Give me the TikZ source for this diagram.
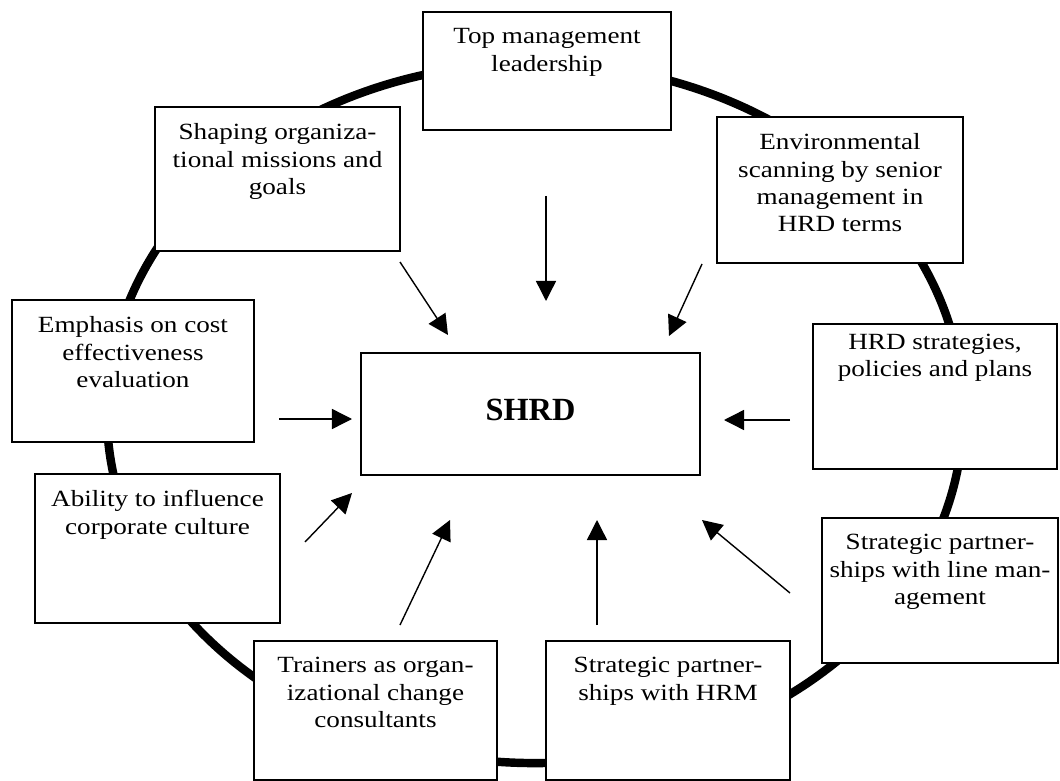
\documentclass[tikz,border=0pt]{standalone}
\usepackage{fontspec}
\setmainfont[FakeStretch=1.17]{Liberation Serif}
\newfontfamily\hubfont{Liberation Serif}
\usetikzlibrary{arrows.meta,fit}

\begin{document}
\begin{tikzpicture}[
  x=0.025cm, y=-0.025cm,
  ring/.style={line width=6pt, black},
  box/.style={draw, line width=1.4pt, fill=white, inner sep=0pt},
  txt/.style={anchor=north, align=center, inner sep=0.43cm, font=\fontsize{16.5}{19.5}\selectfont},
  arr/.style={-{Triangle[length=0.5cm, width=0.5cm]}, line width=1pt}
]
  \useasboundingbox (0,0) rectangle (1060,781);
  \fill[white] (0,0) rectangle (1060,781);

  \draw[ring] (535,413) ellipse [x radius=10.7cm, y radius=8.75cm];

  \node[box, fit={(423,12) (671,130)}, label={[txt]90:{Top management\\leadership}}] (top) {};
  \node[box, fit={(155,107) (400,251)}, label={[txt]90:{Shaping organiza-\\tional missions and\\goals}}] (shaping) {};
  \node[box, fit={(717,117) (963,263)}, label={[txt]90:{Environmental\\scanning by senior\\management in\\HRD terms}}] (env) {};
  \node[box, fit={(12,300) (254,442)}, label={[txt]90:{Emphasis on cost\\effectiveness\\evaluation}}] (emph) {};
  \node[box, fit={(813,324) (1057,469)}, label={[txt, yshift=0.17cm]90:{HRD strategies,\\policies and plans}}] (hrd) {};
  \node[box, fit={(35,474) (280,623)}, label={[txt]90:{Ability to influence\\corporate culture}}] (ability) {};
  \node[box, fit={(822,518) (1058,663)}, label={[txt]90:{Strategic partner-\\ships with line man-\\agement}}] (linemgmt) {};
  \node[box, fit={(254,641) (497,780)}, label={[txt]90:{Trainers as organ-\\izational change\\consultants}}] (trainers) {};
  \node[box, fit={(546,641) (790,780)}, label={[txt]90:{Strategic partner-\\ships with HRM}}] (hrm) {};

  \node[box, minimum width=8.475cm, minimum height=3.05cm, text depth=0.2cm,
        font=\hubfont\bfseries\fontsize{23}{27}\selectfont] (shrd) at (530.5,414) {SHRD};

  \coordinate (top-a) at (546,196);       \coordinate (top-b) at (546,301);
  \coordinate (shaping-a) at (400,262);   \coordinate (shaping-b) at (448,335);
  \coordinate (env-a) at (702,264);       \coordinate (env-b) at (669,336);
  \coordinate (emph-a) at (279,419);      \coordinate (emph-b) at (352,419);
  \coordinate (hrd-a) at (790,420);       \coordinate (hrd-b) at (724,420);
  \coordinate (ability-a) at (305,542);   \coordinate (ability-b) at (352,493);
  \coordinate (trainers-a) at (400,625);  \coordinate (trainers-b) at (450,520);
  \coordinate (hrm-a) at (597,625);       \coordinate (hrm-b) at (597,520);
  \coordinate (linemgmt-a) at (790,593);  \coordinate (linemgmt-b) at (702,520);

  \foreach \nm in {top,shaping,env,emph,hrd,ability,trainers,hrm,linemgmt}
    \draw[arr] (\nm-a) -- (\nm-b);
\end{tikzpicture}
\end{document}
